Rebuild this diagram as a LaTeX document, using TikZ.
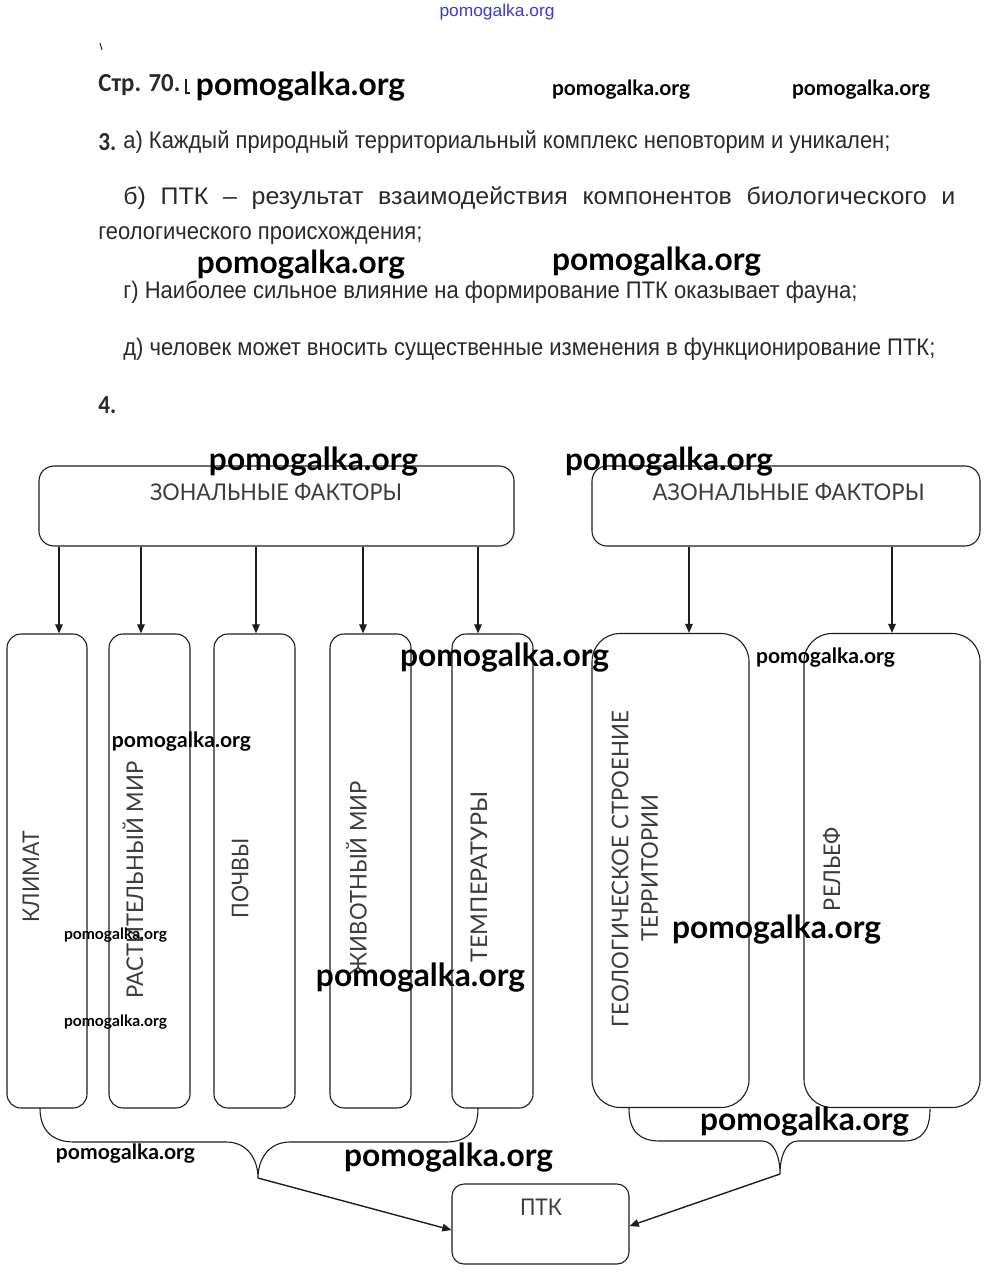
\documentclass[tikz,border=0pt]{standalone}
\usepackage{graphicx}
\usepackage{fontspec}
\setmainfont{Liberation Sans}
\newfontfamily\lato{Lato}
\newfontfamily\carl{Carlito}
\usetikzlibrary{arrows.meta,calc}
\newcommand\fitw[2]{\setbox0=\hbox{#2}\pgfmathsetmacro\fitr{#1/\the\wd0}\scalebox{\fitr}[1]{\box0}}
\definecolor{txt}{HTML}{2A2A2A}
\definecolor{ink}{HTML}{1E1E1E}
\definecolor{dtxt}{HTML}{3C3C3C}
\definecolor{wmblue}{HTML}{3A3AD0}
\begin{document}
\begin{tikzpicture}[x=0.5pt,y=-0.5pt,
  body/.style={anchor=west,inner sep=0pt,text=txt,font=\fontsize{12}{14}\selectfont},
  bnum/.style={anchor=west,inner sep=0pt,text=txt,font=\carl\bfseries\fontsize{13}{15}\selectfont},
  wm/.style={inner sep=0pt,text=black,font=\lato\bfseries},
  dlab/.style={inner sep=0pt,text=dtxt,font=\lato\fontsize{11.5}{13}\selectfont},
  vlab/.style={dlab,rotate=90},
  ln/.style={draw=ink,line width=0.55pt},
  sbox/.style={ln,rounded corners=7pt,minimum width=40pt,minimum height=237pt,inner sep=0pt},
  arr/.style={draw=ink,line width=0.7pt,-{Triangle[length=4.6pt,width=3.8pt]}}]
\useasboundingbox (0,0) rectangle (991,1277);
\fill[white] (0,0) rectangle (991,1277);

% ---------- header text ----------
\node[inner sep=0pt,text=wmblue,font=\fontsize{8.5}{10}\selectfont] (wtop) at (497,12) {\fitw{57.5}{pomogalka.org}};
\draw[ink,line width=0.5pt] (100,43) -- (102,50);
\node[bnum] (str) at (98,85) {\fitw{41}{Стр. 70.}};
\draw[ink,line width=0.9pt] (186,79) -- (186,93) -- (190,93);

\node[bnum] (n3) at (98,142) {\fitw{9}{3.}};
\node[body] (l1) at (123,142) {\fitw{383.5}{а) Каждый природный территориальный комплекс неповторим и уникален;}};
\node[body] (l2) at (123,198) {\fitw{416}{\hbox to 400pt{б)\hfill ПТК\hfill –\hfill результат\hfill взаимодействия\hfill компонентов\hfill биологического\hfill и}}};
\node[body] (l3) at (98,236) {\fitw{162}{геологического происхождения;}};
\node[body] (l4) at (123,292) {\fitw{367}{г) Наиболее сильное влияние на формирование ПТК оказывает фауна;}};
\node[body] (l5) at (123,349) {\fitw{406}{д) человек может вносить существенные изменения в функционирование ПТК;}};
\node[bnum] (n4) at (98,405) {\fitw{9}{4.}};

% ---------- diagram ----------
\node[ln,rounded corners=7.5pt,minimum width=237.5pt,minimum height=40pt,inner sep=0pt] (zon) at (276.5,506) {};
\node[ln,rounded corners=7.5pt,minimum width=194pt,minimum height=40pt,inner sep=0pt] (azon) at (786,506) {};
\node[dlab] (tzon) at (276,492) {\fitw{126}{ЗОНАЛЬНЫЕ ФАКТОРЫ}};
\node[dlab] (tazon) at (788.5,491.5) {\fitw{136}{АЗОНАЛЬНЫЕ ФАКТОРЫ}};

\node[sbox] (b1) at (47,871) {};
\node[sbox,minimum width=40.5pt] (b2) at (149.5,871) {};
\node[sbox,minimum width=40.5pt] (b3) at (254.5,871) {};
\node[sbox,minimum width=40.5pt] (b4) at (370.5,871) {};
\node[sbox,minimum width=40.5pt] (b5) at (492.5,871) {};
\node[sbox,rounded corners=14pt,minimum width=78.5pt] (b6) at (670.5,870.5) {};
\node[sbox,rounded corners=14pt,minimum width=88pt] (b7) at (892,870.5) {};

\node[vlab] (t1) at (31,877) {\fitw{45.75}{КЛИМАТ}};
\node[vlab] (t2) at (133,880) {\fitw{118.5}{РАСТИТЕЛЬНЫЙ МИР}};
\node[vlab] (t3) at (240,878) {\fitw{40}{ПОЧВЫ}};
\node[vlab] (t4) at (356.5,878) {\fitw{97}{ЖИВОТНЫЙ МИР}};
\node[vlab] (t5) at (479,877) {\fitw{85.5}{ТЕМПЕРАТУРЫ}};
\node[vlab] (t6) at (620,869) {\fitw{158}{ГЕОЛОГИЧЕСКОЕ СТРОЕНИЕ}};
\node[vlab] (t6b) at (649.5,868) {\fitw{73.5}{ТЕРРИТОРИИ}};
\node[vlab] (t7) at (831.5,869) {\fitw{42}{РЕЛЬЕФ}};

\node[ln,rounded corners=6pt,minimum width=88.5pt,minimum height=40pt,inner sep=0pt] (ptk) at (540.5,1224) {};
\node[dlab] (tptk) at (541,1207.5) {\fitw{21}{ПТК}};

% arrow x positions
\coordinate (a1) at (59,0);
\coordinate (a2) at (141,0);
\coordinate (a3) at (256,0);
\coordinate (a4) at (363,0);
\coordinate (a5) at (478,0);
\coordinate (a6) at (689,0);
\coordinate (a7) at (892,0);
\draw[arr] (zon.south -| a1) -- (b1.north -| a1);
\draw[arr] (zon.south -| a2) -- (b2.north -| a2);
\draw[arr] (zon.south -| a3) -- (b3.north -| a3);
\draw[arr] (zon.south -| a4) -- (b4.north -| a4);
\draw[arr] (zon.south -| a5) -- (b5.north -| a5);
\draw[arr] (azon.south -| a6) -- (b6.north -| a6);
\draw[arr] (azon.south -| a7) -- (b7.north -| a7);

% braces
\coordinate (lb) at (258,1178);
\coordinate (rb) at (780,1174);
\draw[ln] (40,1108) .. controls (40,1132) and (54,1142) .. (74,1142) -- (226,1142)
  .. controls (248,1142) and (258,1160) .. (lb)
  .. controls (258,1160) and (268,1142) .. (290,1142) -- (446,1142)
  .. controls (466,1142) and (478,1132) .. (478,1108);
\draw[ln] (629,1108) .. controls (629,1132) and (640,1141) .. (660,1141) -- (762,1141)
  .. controls (774,1141) and (780,1156) .. (rb)
  .. controls (780,1156) and (786,1141) .. (798,1141) -- (904,1141)
  .. controls (922,1141) and (930,1130) .. (930,1109);
\draw[arr] (lb) -- ($(ptk.west)+(0,6)$);
\draw[arr] (rb) -- ($(ptk.east)+(0,2)$);

% ---------- watermarks ----------
\node[wm] (w1) at (300.5,87) {\resizebox{104.5pt}{!}{pomogalka.org}};
\node[wm] (w2) at (621,90) {\resizebox{69pt}{!}{pomogalka.org}};
\node[wm] (w3) at (861,90) {\resizebox{69pt}{!}{pomogalka.org}};
\node[wm] (w4) at (301,265) {\resizebox{104pt}{!}{pomogalka.org}};
\node[wm] (w5) at (656.5,262) {\resizebox{104.5pt}{!}{pomogalka.org}};
\node[wm] (w6) at (313.5,462) {\resizebox{104.5pt}{!}{pomogalka.org}};
\node[wm] (w7) at (669,462) {\resizebox{104pt}{!}{pomogalka.org}};
\node[wm] (w8) at (504.5,658) {\resizebox{104.5pt}{!}{pomogalka.org}};
\node[wm] (w9) at (825.5,658) {\resizebox{69.5pt}{!}{pomogalka.org}};
\node[wm] (w10) at (181.5,742) {\resizebox{69.5pt}{!}{pomogalka.org}};
\node[wm] (w11) at (115.5,935) {\resizebox{51.5pt}{!}{pomogalka.org}};
\node[wm] (w12) at (420.5,978) {\resizebox{104.5pt}{!}{pomogalka.org}};
\node[wm] (w13) at (776.5,930) {\resizebox{104.5pt}{!}{pomogalka.org}};
\node[wm] (w14) at (115.5,1022) {\resizebox{51.5pt}{!}{pomogalka.org}};
\node[wm] (w15) at (804.5,1122) {\resizebox{104.5pt}{!}{pomogalka.org}};
\node[wm] (w16) at (125.5,1154) {\resizebox{69.5pt}{!}{pomogalka.org}};
\node[wm] (w17) at (448.5,1158) {\resizebox{104.5pt}{!}{pomogalka.org}};
\end{tikzpicture}
\end{document}
